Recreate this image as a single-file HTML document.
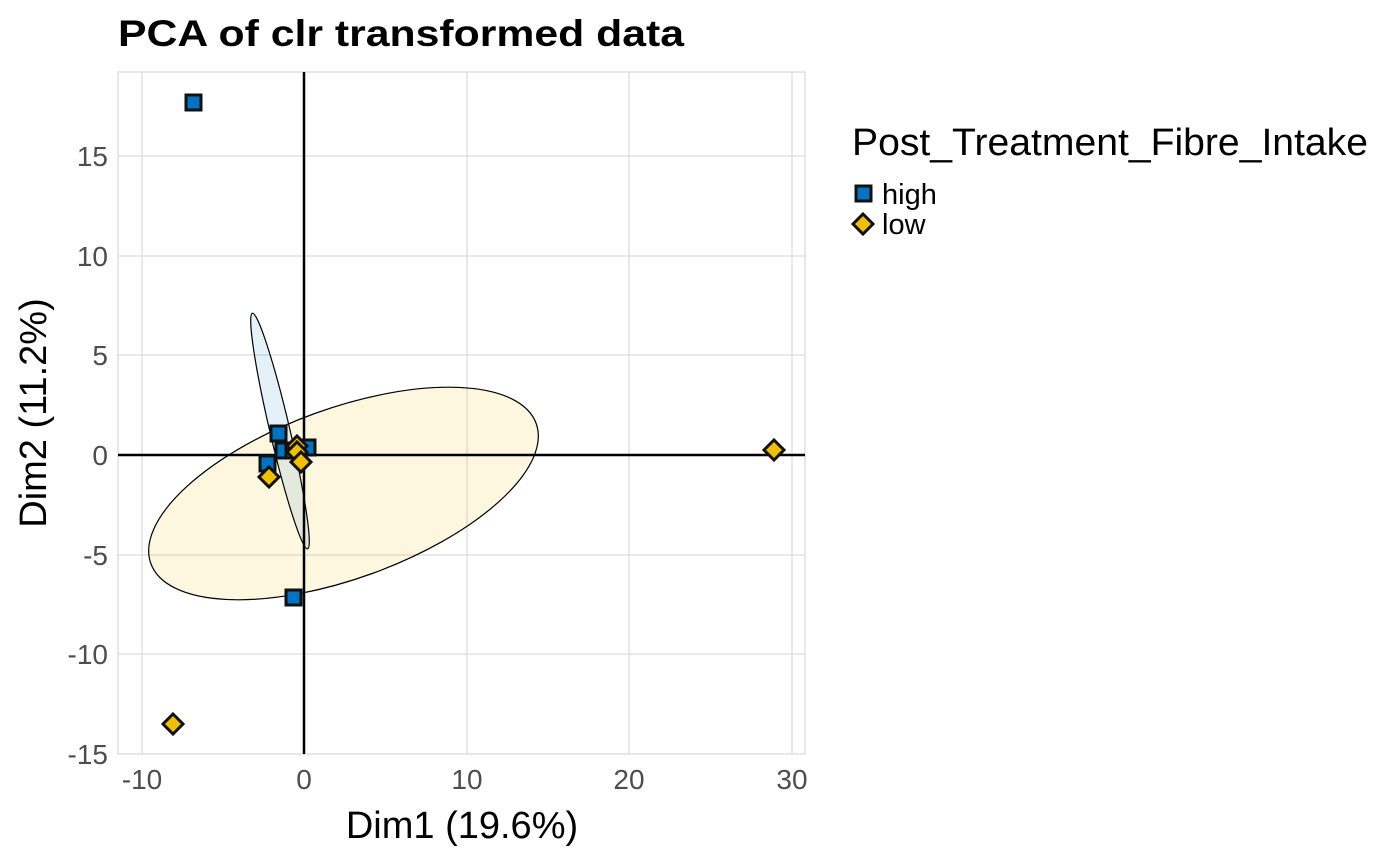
<!DOCTYPE html>
<html><head><style>body{margin:0;background:#fff}</style></head><body>
<svg width="1400" height="860" xmlns="http://www.w3.org/2000/svg" font-family="Liberation Sans, Arial, sans-serif">
<text x="118" y="46" font-size="37" font-weight="bold" fill="#000" textLength="566" lengthAdjust="spacingAndGlyphs">PCA of clr transformed data</text>
<g stroke="#dcdcdc" stroke-width="1.3" fill="none">
<rect x="118" y="72" width="687" height="682"/>
<line x1="142" y1="72" x2="142" y2="754"/><line x1="467" y1="72" x2="467" y2="754"/><line x1="629" y1="72" x2="629" y2="754"/><line x1="792" y1="72" x2="792" y2="754"/>
<line x1="118" y1="156" x2="805" y2="156"/><line x1="118" y1="256" x2="805" y2="256"/><line x1="118" y1="355" x2="805" y2="355"/><line x1="118" y1="555" x2="805" y2="555"/><line x1="118" y1="654" x2="805" y2="654"/>
</g>
<ellipse cx="343.5" cy="493.5" rx="205" ry="85" transform="rotate(-20 343.5 493.5)" fill="#efc000" fill-opacity="0.12" stroke="#000" stroke-width="1.2"/>
<ellipse cx="280" cy="431" rx="121" ry="10" transform="rotate(76.8 280 431)" fill="#0073c2" fill-opacity="0.1" stroke="#000" stroke-width="1.2"/>
<line x1="118" y1="455" x2="805" y2="455" stroke="#000" stroke-width="2.5"/>
<line x1="304" y1="72" x2="304" y2="754" stroke="#000" stroke-width="2.5"/>
<g fill="#0073c2" stroke="#111" stroke-width="3">
<rect x="186" y="95" width="15" height="15"/>
<rect x="286" y="590" width="15" height="15"/>
<rect x="271" y="426" width="15" height="15"/>
<rect x="260" y="456" width="15" height="15"/>
<rect x="276" y="443" width="15" height="15"/>
<rect x="286" y="443" width="15" height="15"/>
<rect x="300" y="440" width="15" height="15"/>
</g>
<g fill="#efc000" stroke="#111" stroke-width="3">
<path d="M173 714 l10 10 -10 10 -10 -10z"/>
<path d="M774 440 l10 10 -10 10 -10 -10z"/>
<path d="M269 467 l10 10 -10 10 -10 -10z"/>
<path d="M297 436 l10 10 -10 10 -10 -10z"/>
<path d="M297 442 l10 10 -10 10 -10 -10z"/>
<path d="M301 452 l10 10 -10 10 -10 -10z"/>
</g>
<g font-size="28" fill="#4d4d4d" text-anchor="end">
<text x="108" y="166">15</text><text x="108" y="266">10</text><text x="108" y="365">5</text><text x="108" y="465">0</text><text x="108" y="565">-5</text><text x="108" y="664">-10</text><text x="108" y="764">-15</text>
</g>
<g font-size="28" fill="#4d4d4d" text-anchor="middle">
<text x="142" y="789">-10</text><text x="304" y="789">0</text><text x="467" y="789">10</text><text x="629" y="789">20</text><text x="792" y="789">30</text>
</g>
<text x="462" y="838" font-size="38" text-anchor="middle">Dim1 (19.6%)</text>
<text transform="translate(46 413) rotate(-90)" font-size="38" text-anchor="middle">Dim2 (11.2%)</text>
<text x="852" y="155" font-size="38" textLength="516" lengthAdjust="spacingAndGlyphs">Post_Treatment_Fibre_Intake</text>
<rect x="856" y="186" width="15" height="15" fill="#0073c2" stroke="#111" stroke-width="3"/>
<path d="M863 214 l10 10 -10 10 -10 -10z" fill="#efc000" stroke="#111" stroke-width="3"/>
<text x="882" y="204" font-size="29">high</text>
<text x="882" y="234" font-size="29">low</text>
</svg>
</body></html>
